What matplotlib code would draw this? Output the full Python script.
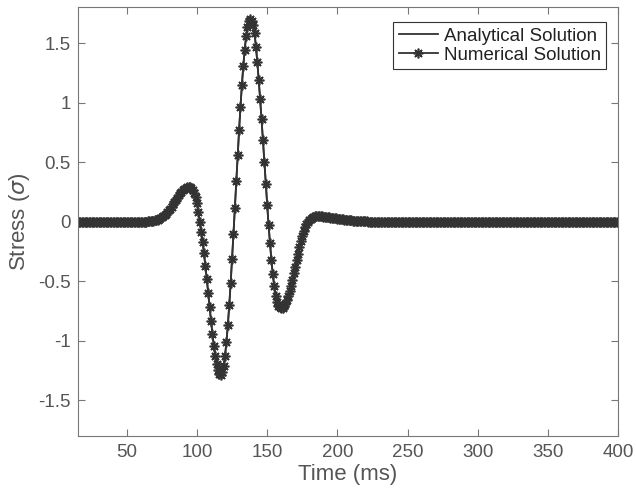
import numpy as np
import matplotlib
matplotlib.use("Agg")
import matplotlib.pyplot as plt

plt.rcParams["font.family"] = ["Liberation Sans", "DejaVu Sans"]
plt.rcParams["mathtext.fontset"] = "dejavusans"

# time axis, one sample per ms
time_ms = np.arange(15, 401)

# stress (t = 15..64 flat, 65..224 wavelet, 225..400 flat)
lead_zeros = [0.0] * 50
wavelet = [
    0.002, 0.003, 0.004, 0.006, 0.008, 0.010, 0.013, 0.017, 0.022, 0.029,
    0.036, 0.044, 0.055, 0.066, 0.079, 0.094, 0.110, 0.127, 0.145, 0.164,
    0.183, 0.202, 0.221, 0.238, 0.253, 0.266, 0.277, 0.284, 0.288, 0.290,
    0.289, 0.282, 0.268, 0.245, 0.210, 0.160, 0.085, 0.000, -0.085, -0.170,
    -0.265, -0.370, -0.480, -0.600, -0.715, -0.830, -0.940, -1.040, -1.125, -1.195,
    -1.245, -1.278, -1.289, -1.266, -1.211, -1.125, -1.010, -0.868, -0.703, -0.518,
    -0.316, -0.103, 0.116, 0.338, 0.556, 0.767, 0.966, 1.147, 1.308, 1.445,
    1.556, 1.638, 1.684, 1.700, 1.687, 1.649, 1.585, 1.470, 1.340, 1.190,
    1.030, 0.860, 0.685, 0.505, 0.320, 0.140, -0.030, -0.180, -0.320, -0.440,
    -0.540, -0.620, -0.675, -0.705, -0.720, -0.727, -0.722, -0.710, -0.690, -0.660,
    -0.625, -0.585, -0.540, -0.490, -0.435, -0.380, -0.325, -0.270, -0.215, -0.165,
    -0.120, -0.080, -0.048, -0.022, -0.002, 0.013, 0.025, 0.034, 0.040, 0.044,
    0.046, 0.047, 0.047, 0.046, 0.045, 0.043, 0.042, 0.040, 0.039, 0.037,
    0.035, 0.033, 0.031, 0.030, 0.028, 0.026, 0.024, 0.023, 0.021, 0.019,
    0.017, 0.016, 0.014, 0.013, 0.012, 0.010, 0.009, 0.008, 0.007, 0.006,
    0.005, 0.005, 0.004, 0.003, 0.003, 0.002, 0.002, 0.001, 0.001, 0.001,
]
tail_zeros = [0.0] * 176

analytical = np.array(lead_zeros + wavelet + tail_zeros)
numerical = analytical.copy()

x_ticks = [50, 100, 150, 200, 250, 300, 350, 400]
y_ticks = [-1.5, -1, -0.5, 0, 0.5, 1, 1.5]
y_tick_labels = ["-1.5", "-1", "-0.5", "0", "0.5", "1", "1.5"]

line_color = "#333333"
text_color = "#555555"
axis_color = "#777777"

fig = plt.figure(figsize=(6.36, 4.91), dpi=100)
ax = fig.add_axes([0.122, 0.112, 0.850, 0.873])

ax.plot(time_ms, analytical, color=line_color, lw=1.3, label="Analytical Solution")
ax.plot(time_ms, numerical, color=line_color, lw=1.3, marker=(8, 2, 0),
        ms=7, mew=1.2, label="Numerical Solution")

ax.set_xlim(15, 400)
ax.set_ylim(-1.8, 1.8)
ax.set_xticks(x_ticks)
ax.set_yticks(y_ticks)
ax.set_yticklabels(y_tick_labels)

ax.tick_params(direction="in", length=5, width=0.8, colors=axis_color,
               labelcolor=text_color, labelsize=13.5, top=True, right=True)
ax.tick_params(axis="x", pad=6)
ax.tick_params(axis="y", pad=5)
for spine in ax.spines.values():
    spine.set_color(axis_color)
    spine.set_linewidth(0.8)

ax.set_xlabel("Time (ms)", fontsize=16, color=text_color, labelpad=2)
ax.set_ylabel(r"Stress ($\sigma$)", fontsize=16, color=text_color, labelpad=4)

leg = ax.legend(loc="upper right", bbox_to_anchor=(0.978, 0.966), borderaxespad=0,
                fontsize=13.5, fancybox=False, framealpha=1, edgecolor="#333333",
                handlelength=2.1, handletextpad=0.3, labelspacing=0.1,
                borderpad=0.3, numpoints=1)
leg.get_frame().set_linewidth(0.8)
for t in leg.get_texts():
    t.set_color("#222222")

fig.savefig("out.png", dpi=100)
